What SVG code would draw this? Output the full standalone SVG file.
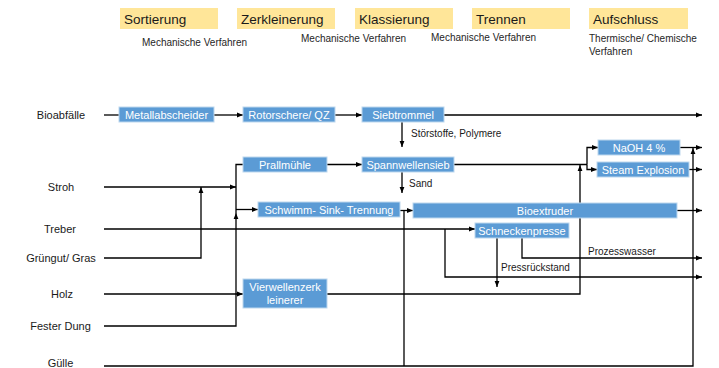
<svg xmlns="http://www.w3.org/2000/svg" width="719" height="368" viewBox="0 0 719 368">
<style>
.hd{fill:#FFE699}
.hdt{font-family:"Liberation Sans",Arial,sans-serif;font-size:13.5px;fill:#1a1a1a}
.sub{font-family:"Liberation Sans",Arial,sans-serif;font-size:10px;fill:#262626}
.lab{font-family:"Liberation Sans",Arial,sans-serif;font-size:11px;fill:#1a1a1a;text-anchor:middle}
.box{fill:#5B9BD5;stroke:#BDD7EE;stroke-width:1}
.bt{font-family:"Liberation Sans",Arial,sans-serif;font-size:11px;fill:#fff;text-anchor:middle}
.cl{fill:none;stroke:#000;stroke-width:1.3}
.ar{marker-end:url(#ah)}
.note{font-family:"Liberation Sans",Arial,sans-serif;font-size:10px;fill:#1a1a1a}
</style>
<defs>
<marker id="ah" markerWidth="6" markerHeight="6" refX="6" refY="3" orient="auto" markerUnits="userSpaceOnUse">
<path d="M0,0.6 L6,3 L0,5.4 z" fill="#000"/>
</marker>
</defs>
<rect width="719" height="368" fill="#fff"/>

<g id="header">
<rect class="hd" x="120" y="8" width="98" height="21"/>
<text class="hdt" x="124" y="24">Sortierung</text>
<rect class="hd" x="237" y="8" width="98" height="21"/>
<text class="hdt" x="241" y="24">Zerkleinerung</text>
<rect class="hd" x="355" y="8" width="98" height="21"/>
<text class="hdt" x="359" y="24">Klassierung</text>
<rect class="hd" x="472" y="8" width="98" height="21"/>
<text class="hdt" x="476" y="24">Trennen</text>
<rect class="hd" x="589" y="8" width="99" height="21"/>
<text class="hdt" x="593" y="24">Aufschluss</text>
<text class="sub" x="142" y="45.5">Mechanische Verfahren</text>
<text class="sub" x="301" y="41.5">Mechanische Verfahren</text>
<text class="sub" x="431" y="40.5">Mechanische Verfahren</text>
<text class="sub" x="589" y="41.5">Thermische/ Chemische</text>
<text class="sub" x="589" y="55">Verfahren</text>
</g>

<g id="inputs">
<text class="lab" x="61" y="119">Bioabfälle</text>
<text class="lab" x="61" y="191">Stroh</text>
<text class="lab" x="60" y="233">Treber</text>
<text class="lab" x="61" y="262">Grüngut/ Gras</text>
<text class="lab" x="62" y="298">Holz</text>
<text class="lab" x="60.5" y="330">Fester Dung</text>
<text class="lab" x="60.5" y="367">Gülle</text>
</g>

<g id="connectors">
<path class="cl" d="M104,115 H119"/>
<path class="cl ar" d="M214,115 H243"/>
<path class="cl ar" d="M335,115 H362"/>
<path class="cl ar" d="M444,115 H702"/>
<path class="cl ar" d="M402,122 V147"/>
<path class="cl ar" d="M402,172 V193"/>
<path class="cl ar" d="M327,164.5 H362"/>
<path class="cl" d="M454,164.5 H587"/>
<path class="cl ar" d="M587,164.5 V147.5 H598"/>
<path class="cl ar" d="M587,164.5 V169.5 H597"/>
<path class="cl ar" d="M680,147.5 H702"/>
<path class="cl ar" d="M689,169.5 H702"/>
<path class="cl ar" d="M677,210.5 H702"/>
<path class="cl ar" d="M104,187 H236"/>
<path class="cl ar" d="M104,258 H201 V187"/>
<path class="cl ar" d="M104,326 H236 V213"/>
<path class="cl" d="M236,213 V164.5 H243"/>
<path class="cl ar" d="M236,209.5 H258"/>
<path class="cl ar" d="M104,229 H475"/>
<path class="cl ar" d="M445,229 V277 H702"/>
<path class="cl ar" d="M104,294 H243"/>
<path class="cl ar" d="M327,294 H580 V165"/>
<path class="cl ar" d="M497,238 V287"/>
<path class="cl ar" d="M522,238 V258 H702"/>
<path class="cl ar" d="M104,366 H693 V148"/>
<path class="cl" d="M404,366 V210.5"/>
<path class="cl ar" d="M400,210.5 H413"/>
<text class="note" x="411" y="137">Störstoffe, Polymere</text>
<text class="note" x="409" y="187">Sand</text>
<text class="note" x="501" y="271">Pressrückstand</text>
<text class="note" x="588" y="255">Prozesswasser</text>
</g>

<g id="metallabscheider"><rect class="box" x="119" y="107" width="95" height="15"/><text class="bt" x="166.5" y="118.5">Metallabscheider</text></g>
<g id="rotorschere"><rect class="box" x="243" y="107" width="92" height="15"/><text class="bt" x="289" y="118.5">Rotorschere/ QZ</text></g>
<g id="siebtrommel"><rect class="box" x="362" y="107" width="82" height="15"/><text class="bt" x="403" y="118.5">Siebtrommel</text></g>
<g id="prallmuehle"><rect class="box" x="243" y="157" width="84" height="15"/><text class="bt" x="285" y="168.5">Prallmühle</text></g>
<g id="spannwellensieb"><rect class="box" x="362" y="157" width="92" height="15"/><text class="bt" x="408" y="168.5">Spannwellensieb</text></g>
<g id="schwimmsink"><rect class="box" x="258" y="202" width="142" height="15"/><text class="bt" x="329" y="213.5">Schwimm- Sink- Trennung</text></g>
<g id="bioextruder"><rect class="box" x="413" y="203" width="264" height="15"/><text class="bt" x="545" y="214.5">Bioextruder</text></g>
<g id="schneckenpresse"><rect class="box" x="475" y="223" width="94" height="15"/><text class="bt" x="522" y="234.5">Schneckenpresse</text></g>
<g id="naoh"><rect class="box" x="598" y="140" width="82" height="15"/><text class="bt" x="639" y="151.5">NaOH 4 %</text></g>
<g id="steamexplosion"><rect class="box" x="597" y="162" width="92" height="15"/><text class="bt" x="643" y="173.5">Steam Explosion</text></g>
<g id="vierwellen"><rect class="box" x="243" y="279" width="84" height="29"/><text class="bt" x="285" y="291">Vierwellenzerk</text><text class="bt" x="285" y="304">leinerer</text></g>
</svg>
